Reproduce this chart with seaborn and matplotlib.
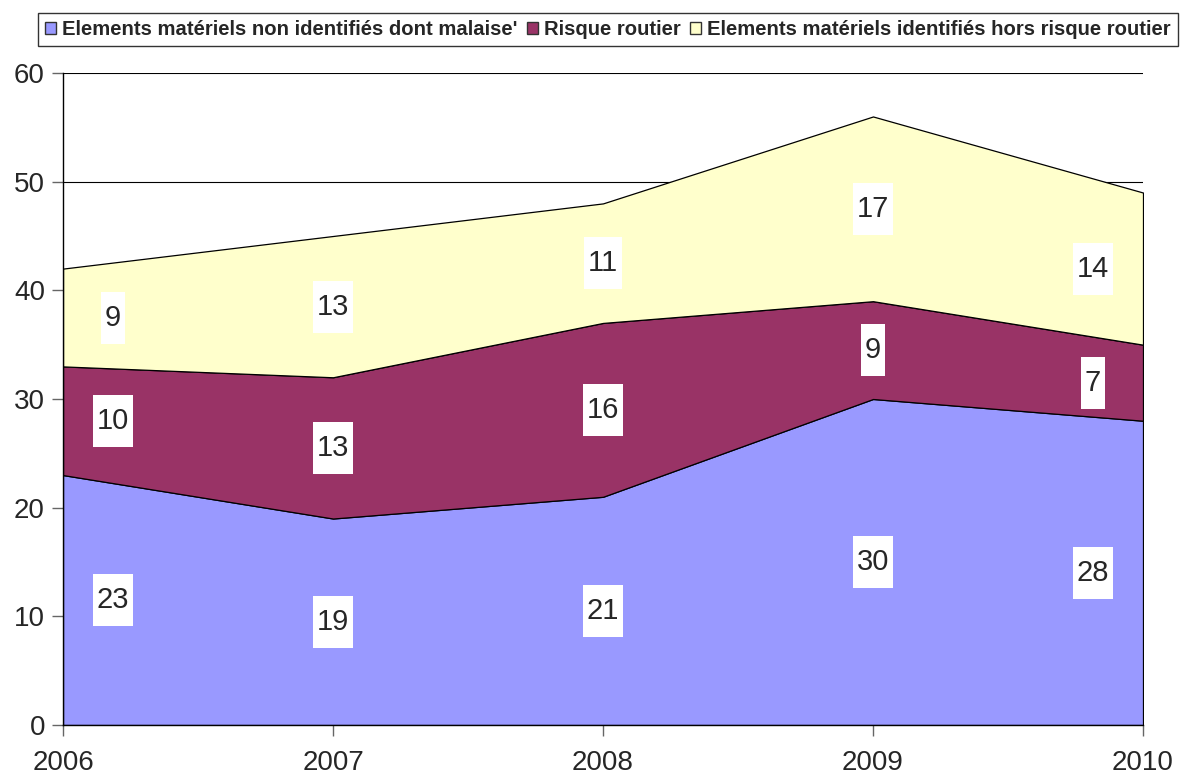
import numpy as np
import matplotlib
matplotlib.use("Agg")
import matplotlib.pyplot as plt
from matplotlib.path import Path
from matplotlib.patches import Patch
import seaborn as sns

years = [2006, 2007, 2008, 2009, 2010]
non_identifies = [23, 19, 21, 30, 28]
risque_routier = [10, 13, 16, 9, 7]
hors_risque = [9, 13, 11, 17, 14]
series_names = ["Elements matériels non identifiés dont malaise'",
                "Risque routier",
                "Elements matériels identifiés hors risque routier"]
colors = ["#9999FF", "#993366", "#FFFFCC"]
y_ticks = [0, 10, 20, 30, 40, 50, 60]

sns.set_style("white")
plt.rcParams['font.family'] = ['Liberation Sans', 'DejaVu Sans']

fig = plt.figure(figsize=(11.8, 7.74), dpi=100)
ax = fig.add_axes([63/1180, 49/774, 1080/1180, 652/774])

ax.set_axisbelow(True)
ax.yaxis.grid(True, color='black', linewidth=0.8)
ax.xaxis.grid(False)

ax.stackplot(years, non_identifies, risque_routier, hors_risque,
             colors=colors, edgecolor='black', linewidth=0.9, zorder=2)

ax.set_xlim(years[0], years[-1])
ax.set_ylim(0, 60)
ax.set_yticks(y_ticks)
ax.set_xticks(years)
ax.tick_params(axis='y', labelsize=20, length=8, width=1, color='#666666', direction='out', left=True, pad=5)
ax.tick_params(axis='x', labelsize=20, length=8, width=1, color='#666666', direction='out', bottom=True, pad=10)
for s in ['top', 'right']:
    ax.spines[s].set_visible(False)
for s in ['left', 'bottom']:
    ax.spines[s].set_color('black')
    ax.spines[s].set_linewidth(1.0)

def label_box(x0, y0, width, height, mutation_size):
    px, py = 4, 12
    x0 -= px; width += 2 * px
    y0 -= py; height += 2 * py
    return Path([(x0, y0), (x0 + width, y0), (x0 + width, y0 + height),
                 (x0, y0 + height), (x0, y0)],
                [Path.MOVETO, Path.LINETO, Path.LINETO, Path.LINETO, Path.CLOSEPOLY])

label_x = [years[0] + 0.185] + years[1:-1] + [years[-1] - 0.185]
bottom = np.zeros(len(years))
for vals in [non_identifies, risque_routier, hors_risque]:
    vals = np.array(vals, dtype=float)
    mids = bottom + vals / 2
    for xi, yi, v in zip(label_x, mids, vals):
        ax.text(xi, yi, f"{int(v)}", ha='center', va='center', fontsize=21,
                zorder=5, bbox=dict(boxstyle=label_box, fc='white', ec='none'))
    bottom = bottom + vals

handles = [Patch(facecolor=c, edgecolor='#333333', linewidth=1.0) for c in colors]
leg = fig.legend(handles, series_names, loc='upper right', ncol=3,
                 bbox_to_anchor=(1178/1180, 1 - 13/774),
                 frameon=True, fancybox=False, edgecolor='black',
                 prop={'weight': 'bold', 'size': 14.6},
                 handlelength=0.55, handleheight=0.55, handletextpad=0.3,
                 columnspacing=0.45, borderpad=0.35, borderaxespad=0)
leg.get_frame().set_linewidth(1.0)

fig.savefig("out.png", dpi=100)
